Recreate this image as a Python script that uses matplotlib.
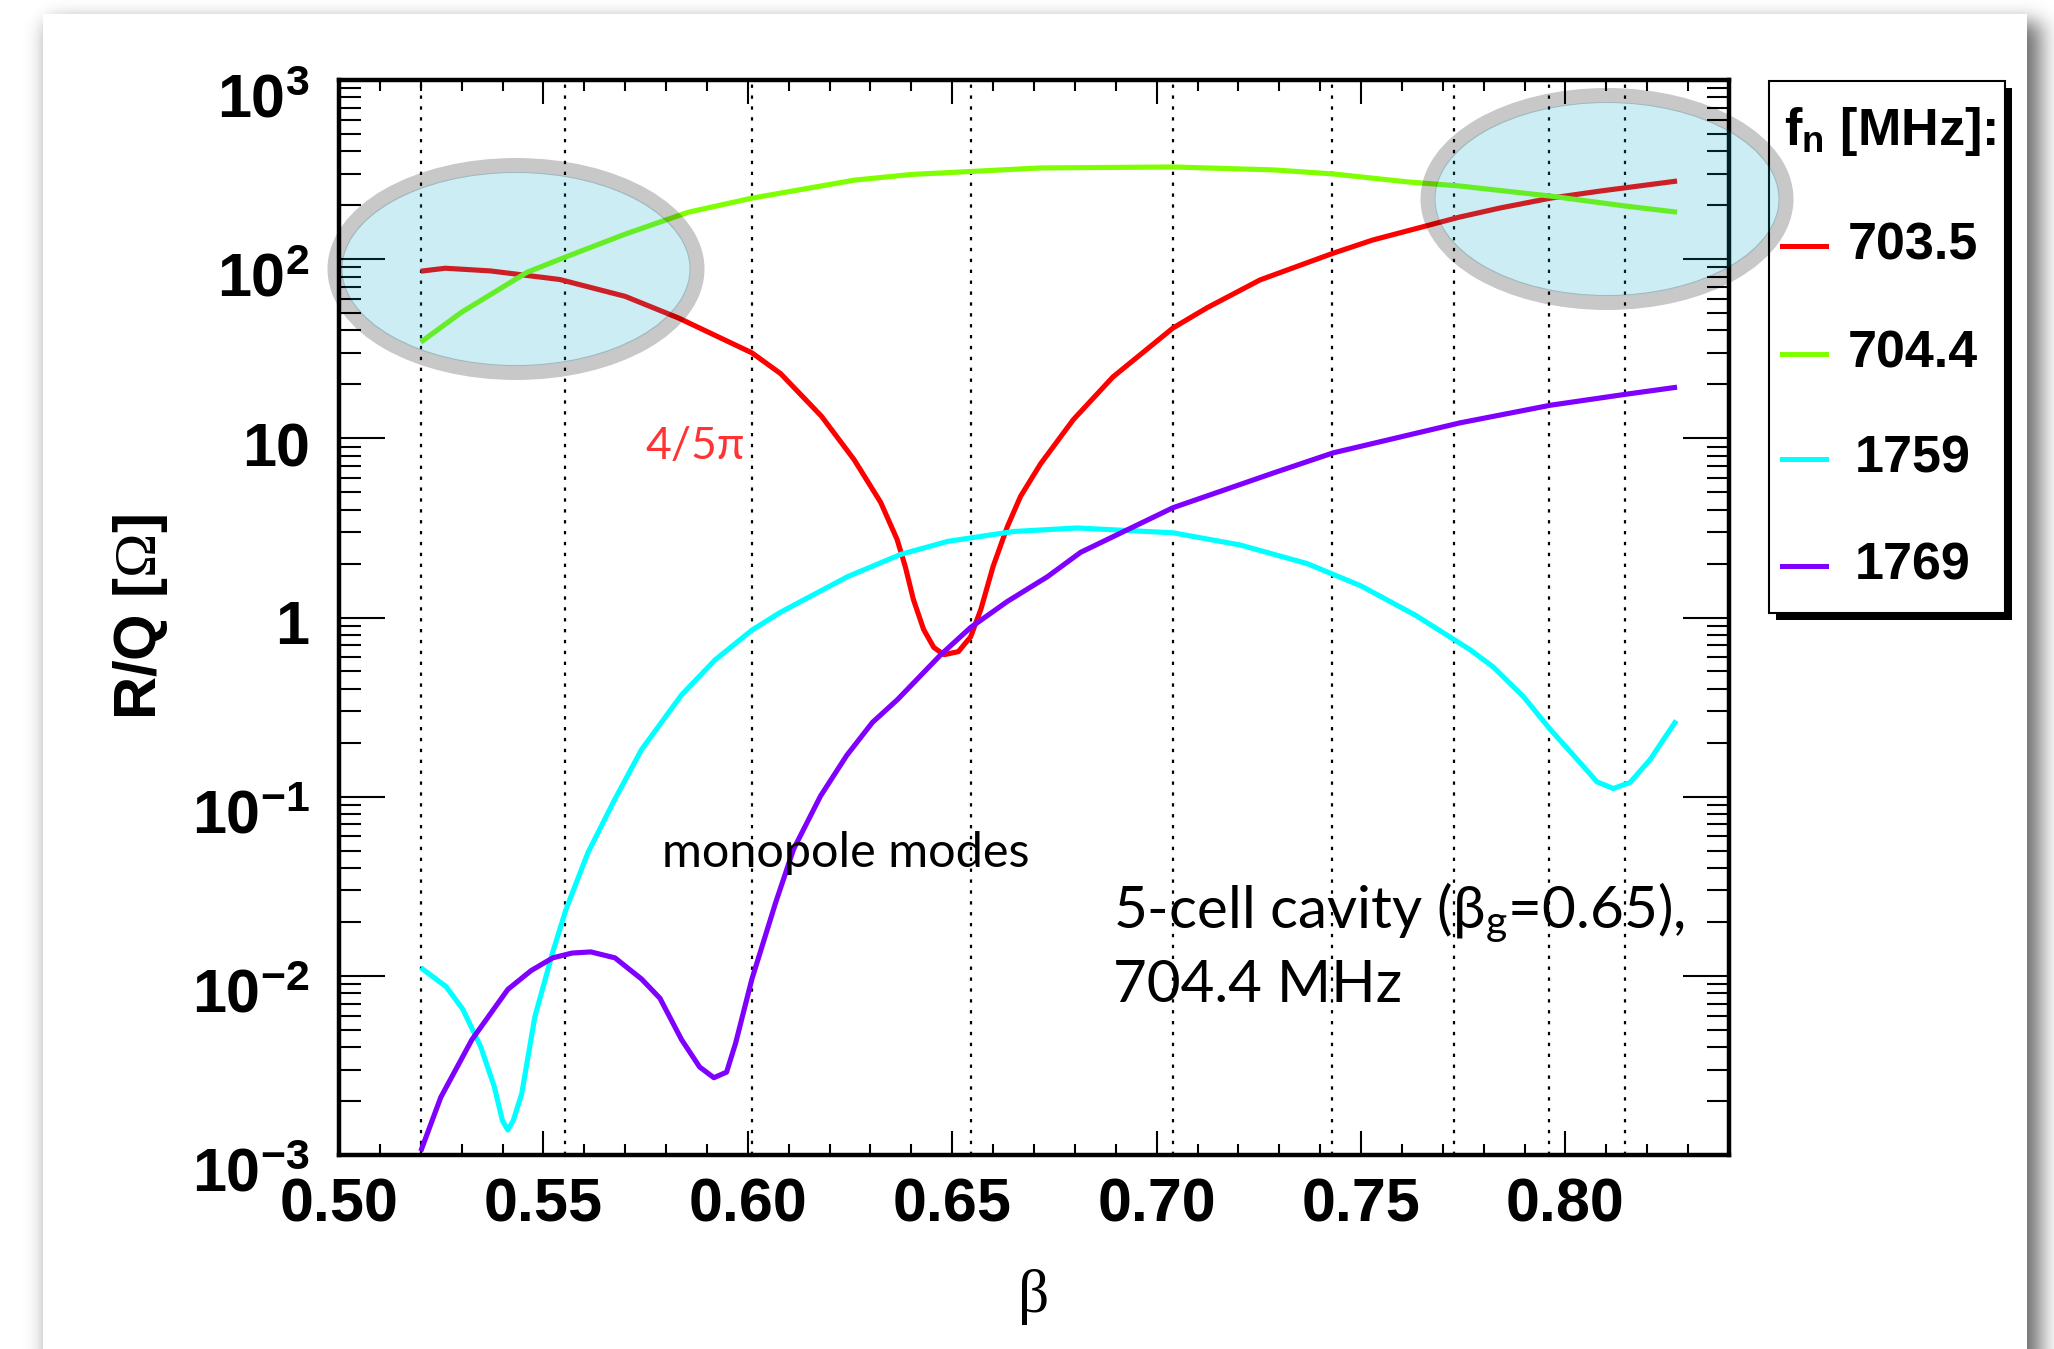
import math
import numpy as np
import matplotlib
matplotlib.use('Agg')
import matplotlib.pyplot as plt
from matplotlib.patches import Ellipse, Rectangle
from matplotlib.lines import Line2D
from matplotlib.transforms import ScaledTranslation
from matplotlib.ticker import FixedLocator, FixedFormatter, LogLocator, NullFormatter, MultipleLocator

plt.rcParams['mathtext.fontset'] = 'custom'
plt.rcParams['mathtext.rm'] = 'Liberation Serif'
plt.rcParams['mathtext.it'] = 'Liberation Serif:italic'
plt.rcParams['mathtext.bf'] = 'Liberation Sans:bold'
plt.rcParams['mathtext.sf'] = 'Liberation Sans'

# ---------------- data ----------------
series_labels = ['703.5', '704.4', '1759', '1769']
series_colors = ['#ff0000', '#7fff00', '#00ffff', '#7f00ff']

beta_703 = [0.520, 0.526, 0.537, 0.554, 0.570, 0.583, 0.601, 0.608, 0.618, 0.626,
            0.6325, 0.6365, 0.6385, 0.6405, 0.643, 0.6455, 0.648, 0.6515, 0.6545,
            0.657, 0.660, 0.6635, 0.6667, 0.6716, 0.6796, 0.6893, 0.704, 0.7123,
            0.7253, 0.7432, 0.7529, 0.7742, 0.784, 0.7963, 0.8085, 0.8273]
rq_703 = [85.7, 89, 86, 77, 62, 47, 30, 23, 13.3, 7.6,
          4.39, 2.73, 1.93, 1.26, 0.857, 0.68, 0.62, 0.645, 0.78,
          1.11, 1.93, 3.22, 4.74, 7.2, 12.7, 22, 41.3, 53.5,
          76.6, 108, 128, 172, 193, 219, 240, 273]

beta_704 = [0.520, 0.530, 0.546, 0.556, 0.570, 0.5855, 0.601, 0.626, 0.640, 0.655,
            0.6715, 0.704, 0.7285, 0.7432, 0.7613, 0.7742, 0.7963, 0.8146, 0.8273]
rq_704 = [34.4, 50.6, 84.5, 104, 138, 183, 219, 276, 297, 309,
          323, 327, 315, 299, 270, 256, 225, 198, 183]

beta_1759 = [0.520, 0.5262, 0.5303, 0.5347, 0.538, 0.540, 0.5413, 0.5426, 0.5447,
             0.5479, 0.5523, 0.5555, 0.5609, 0.5674, 0.574, 0.5838, 0.592, 0.601,
             0.608, 0.6244, 0.6374, 0.6489, 0.665, 0.6805, 0.704, 0.7204, 0.7368,
             0.750, 0.7633, 0.7767, 0.7823, 0.7897, 0.7963, 0.8029, 0.8077, 0.8117,
             0.8158, 0.8207, 0.8271]
rq_1759 = [0.0111, 0.0087, 0.0065, 0.004, 0.0024, 0.00155, 0.00138, 0.00155, 0.0022,
           0.0059, 0.0136, 0.0234, 0.0487, 0.096, 0.183, 0.37, 0.58, 0.85,
           1.07, 1.69, 2.25, 2.66, 3.02, 3.16, 2.97, 2.54, 2.0,
           1.5, 1.03, 0.66, 0.53, 0.362, 0.237, 0.161, 0.121, 0.111,
           0.12, 0.161, 0.266]

beta_1769 = [0.520, 0.5249, 0.5325, 0.5413, 0.547, 0.5523, 0.557, 0.5616, 0.5675,
             0.574, 0.5785, 0.5838, 0.5882, 0.5917, 0.5948, 0.597, 0.601, 0.6068,
             0.6112, 0.6178, 0.6242, 0.6305, 0.6366, 0.6472, 0.6545, 0.6635, 0.6733,
             0.6814, 0.704, 0.7285, 0.7432, 0.7742, 0.7963, 0.8146, 0.8273]
rq_1769 = [0.00105, 0.0021, 0.0044, 0.0084, 0.0107, 0.0126, 0.0134, 0.0136, 0.0126,
           0.0096, 0.0075, 0.0044, 0.0031, 0.0027, 0.0029, 0.0042, 0.0096, 0.0256,
           0.051, 0.101, 0.17, 0.26, 0.348, 0.62, 0.88, 1.23, 1.69,
           2.31, 4.1, 6.4, 8.3, 12.2, 15.3, 17.6, 19.3]

dotted_betas = [0.520, 0.5553, 0.601, 0.6546, 0.704, 0.743, 0.7728, 0.796, 0.8145]

xtick_vals = [0.50, 0.55, 0.60, 0.65, 0.70, 0.75, 0.80]
xtick_labels = ['0.50', '0.55', '0.60', '0.65', '0.70', '0.75', '0.80']
ytick_vals = [1e-3, 1e-2, 1e-1, 1, 10, 1e2, 1e3]
ytick_labels = [r'$\mathbf{10^{-3}}$', r'$\mathbf{10^{-2}}$', r'$\mathbf{10^{-1}}$',
                r'$\mathbf{1}$', r'$\mathbf{10}$', r'$\mathbf{10^{2}}$', r'$\mathbf{10^{3}}$']

all_beta = [beta_703, beta_704, beta_1759, beta_1769]
all_rq = [rq_703, rq_704, rq_1759, rq_1769]

# ---------------- figure ----------------
W, H = 2054, 1349
fig = plt.figure(figsize=(W / 100, H / 100), dpi=100)
fig.patch.set_facecolor('white')

# background card with shadow
bg = fig.add_axes([0, 0, 1, 1], zorder=-1)
bg.set_xlim(0, W)
bg.set_ylim(H, 0)
bg.axis('off')
erf = np.vectorize(math.erf)
xs = np.arange(W) + 0.5
ys = np.arange(H) + 0.5
sx = 0.5 * (erf((xs - 50) / 16.0) - erf((xs - 2040) / 16.0))
sy = 0.5 * (erf((ys - 22) / 14.0) - erf((ys - 1500) / 14.0))
shade = 1 - 0.6 * np.outer(sy, sx)
bg.imshow(shade, cmap='gray', vmin=0, vmax=1, extent=(0, W, H, 0), aspect='auto',
          interpolation='bilinear')
bg.add_patch(Rectangle((43, 14), 2027 - 43, H - 14 + 5, facecolor='white', edgecolor='none'))

# main axes
ax = fig.add_axes([339 / W, 1 - 1155 / H, 1390 / W, 1075 / H], zorder=5)
ax.set_facecolor('none')
ax.set_yscale('log')
ax.set_xlim(0.5, 0.84)
ax.set_ylim(1e-3, 1e3)

for b in dotted_betas:
    ax.axvline(b, color='black', lw=1.6, linestyle=(0, (1.5, 3.4)), zorder=1)

for bx, ry, c, lab in zip(all_beta, all_rq, series_colors, series_labels):
    ax.plot(bx, ry, color=c, lw=3.7, solid_joinstyle='round', solid_capstyle='butt',
            zorder=2, label=lab)

ax.xaxis.set_major_locator(FixedLocator(xtick_vals))
ax.xaxis.set_major_formatter(FixedFormatter(xtick_labels))
ax.xaxis.set_minor_locator(MultipleLocator(0.01))
ax.yaxis.set_major_locator(FixedLocator(ytick_vals))
ax.yaxis.set_major_formatter(FixedFormatter(ytick_labels))
ax.yaxis.set_minor_locator(LogLocator(base=10, subs=np.arange(2, 10), numticks=100))
ax.yaxis.set_minor_formatter(NullFormatter())

ax.tick_params(which='both', direction='in', top=True, right=True, width=1.5, color='black')
ax.tick_params(axis='x', which='major', length=17, pad=16, labelsize=44)
ax.tick_params(axis='x', which='minor', length=8)
ax.tick_params(axis='y', which='major', length=33, pad=21, labelsize=44)
ax.tick_params(axis='y', which='minor', length=16)
for lbl in ax.get_xticklabels() + ax.get_yticklabels():
    lbl.set_fontfamily('Liberation Sans')
    lbl.set_fontweight('bold')
for sp in ax.spines.values():
    sp.set_linewidth(3.2)

# ROOT-like placement: powers of ten sit a little below their tick
for tick, lab in zip(ax.yaxis.get_major_ticks(), ytick_labels):
    dy = -0.15 if '^' in lab else -0.05
    tick.label1.set_transform(tick.label1.get_transform() +
                              ScaledTranslation(0, dy, fig.dpi_scale_trans))

ax.set_ylabel(r'R/Q [$\Omega$]', fontsize=43, fontweight='bold', family='Liberation Sans',
              va='center')
ax.yaxis.set_label_coords(-0.143, 0.5)
ax.set_xlabel('β', fontsize=44, family='Liberation Serif', va='center')
ax.xaxis.set_label_coords(0.5, -0.132)

ann_font = ['Lato', 'DejaVu Sans']
ax.text(0.587, 8.95, '4/5π', color='#ff3333', fontsize=32, family=ann_font,
        ha='center', va='center', zorder=3)
ax.text(0.624, 0.0487, 'monopole modes', color='black', fontsize=35, family=ann_font,
        ha='center', va='center', zorder=3)
ax.text(0.6893, 0.0185, r'5-cell cavity (β$_\mathregular{g}$=0.65),', color='black',
        fontsize=42, family=ann_font, ha='left', va='baseline', zorder=3)
ax.text(0.6893, 0.00716, '704.4 MHz', color='black', fontsize=42, family=ann_font,
        ha='left', va='baseline', zorder=3)

# foreground overlay: legend + highlight ellipses
fg = fig.add_axes([0, 0, 1, 1], zorder=10)
fg.set_xlim(0, W)
fg.set_ylim(H, 0)
fg.axis('off')
fg.patch.set_alpha(0)

fg.add_patch(Rectangle((1776, 88), 236, 532, facecolor='black', edgecolor='none', zorder=1))
fg.add_patch(Rectangle((1769, 81), 236, 532, facecolor='white', edgecolor='black',
                       lw=1.5, zorder=2))
fg.text(1890, 131, r'f$_\mathregular{n}$ [MHz]:', fontsize=37.5, fontweight='bold',
        family='Liberation Sans', ha='center', va='center', zorder=3)
legend_y = [246, 354, 459, 566]
for yy, c, lab in zip(legend_y, series_colors, series_labels):
    fg.add_line(Line2D([1782, 1826], [yy, yy], color=c, lw=3.6, zorder=3))
    fg.text(1913, yy, lab, fontsize=37.5, fontweight='bold', family='Liberation Sans',
            ha='center', va='center', zorder=3)

fill_col = (0 / 255, 165 / 255, 195 / 255, 0.2)
ring_col = (0, 0, 0, 0.215)
ring_lw_px = 15
for (cx, cy, w, h) in [(516, 269, 362, 207), (1607, 199, 358, 207)]:
    fg.add_patch(Ellipse((cx, cy), w - ring_lw_px + 2, h - ring_lw_px + 2,
                         facecolor=fill_col, edgecolor='none', zorder=5))
    fg.add_patch(Ellipse((cx, cy), w, h, facecolor='none', edgecolor=ring_col,
                         lw=ring_lw_px * 0.72, zorder=6))

fig.savefig('out.png', dpi=100)
